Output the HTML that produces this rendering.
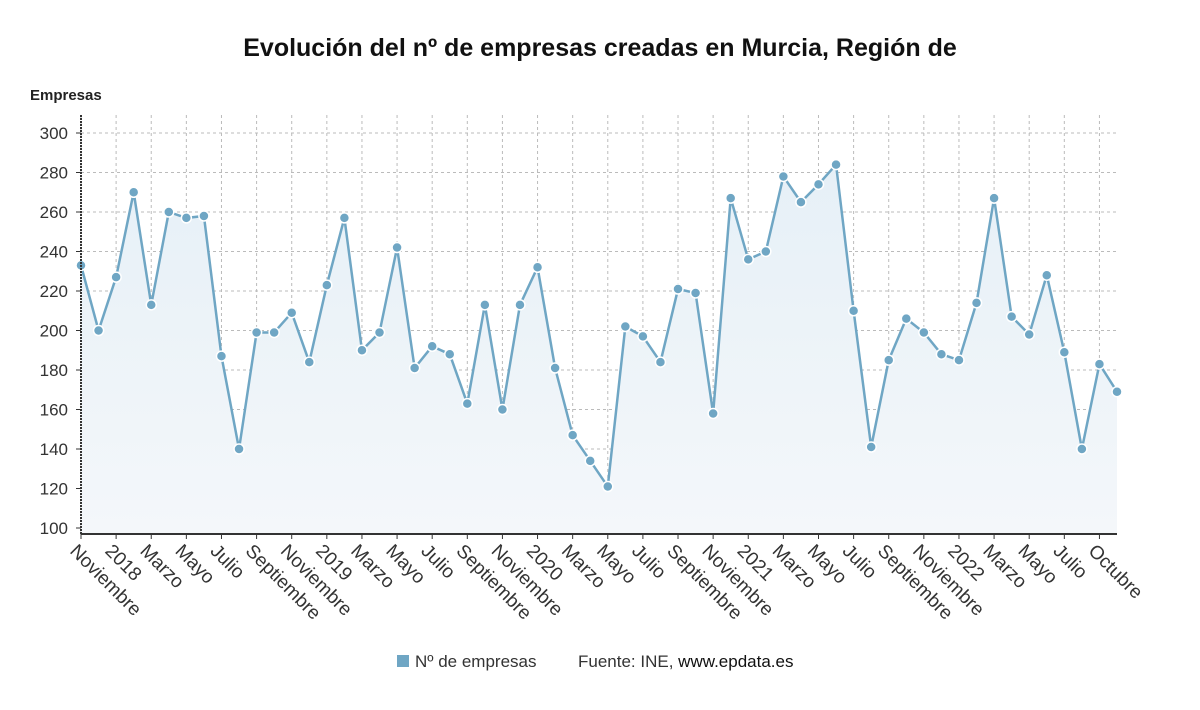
<!DOCTYPE html>
<html><head><meta charset="utf-8">
<style>
body{margin:0;background:#fff;width:1200px;height:705px;overflow:hidden;font-family:"Liberation Sans",sans-serif;}
svg text{font-family:"Liberation Sans",sans-serif;}
</style></head>
<body>
<svg id="chart" width="1200" height="705" xmlns="http://www.w3.org/2000/svg">
<defs><linearGradient id="ag" x1="0" y1="0" x2="0" y2="1"><stop offset="0" stop-color="#e6f0f7"/><stop offset="1" stop-color="#f4f7fa"/></linearGradient></defs>
<text x="600" y="56" text-anchor="middle" font-size="25" font-weight="bold" fill="#111">Evolución del nº de empresas creadas en Murcia, Región de</text>
<text x="30" y="100" font-size="15" font-weight="bold" fill="#222">Empresas</text>
<g id="grid"></g><g id="series"></g><g id="axes"></g>
<g>
<rect x="397" y="655" width="12" height="12" fill="#6fa6c4"/>
<text x="415" y="667" font-size="17" fill="#333">Nº de empresas</text>
<text x="578" y="667" font-size="17" fill="#333">Fuente: INE, <tspan fill="#111">www.epdata.es</tspan></text>
</g>
</svg>
<script>
const labels=["Noviembre","2018","Marzo","Mayo","Julio","Septiembre","Noviembre","2019","Marzo","Mayo","Julio","Septiembre","Noviembre","2020","Marzo","Mayo","Julio","Septiembre","Noviembre","2021","Marzo","Mayo","Julio","Septiembre","Noviembre","2022","Marzo","Mayo","Julio","Octubre"];
const values=[233,200,227,270,213,260,257,258,187,140,199,199,209,184,223,257,190,199,242,181,192,188,163,213,160,213,232,181,147,134,121,202,197,184,221,219,158,267,236,240,278,265,274,284,210,141,185,206,199,188,185,214,267,207,198,228,189,140,183,169];
const yTicks=[100,120,140,160,180,200,220,240,260,280,300];
const NS="http://www.w3.org/2000/svg";
const x0=81,x1=1117,yB=534;
const X=i=>x0+i*(x1-x0)/(values.length-1);
const Y=v=>528-(v-100)*(528-133)/200;
function mk(t,a,p){const e=document.createElementNS(NS,t);for(const k in a)e.setAttribute(k,a[k]);p.appendChild(e);return e;}
const grid=document.getElementById('grid'),ser=document.getElementById('series'),ax=document.getElementById('axes');
yTicks.forEach(v=>{
const l=mk('line',{x1:x0,x2:x1,y1:Y(v),y2:Y(v),stroke:'#bbb','stroke-dasharray':'3,3'},grid);


const t=mk('text',{x:68,y:Y(v)+6,'text-anchor':'end','font-size':17,fill:'#333'},ax);
t.textContent=v;


mk('line',{x1:x0-5,x2:x0,y1:Y(v),y2:Y(v),stroke:'#333'},ax);
});
labels.forEach((s,j)=>{
const i=Math.min(j*2,values.length-1);const x=X(i);
const l=mk('line',{x1:x,x2:x,y1:115,y2:yB,stroke:'#bbb','stroke-dasharray':'3,3'},grid);


mk('line',{x1:x,x2:x,y1:yB,y2:yB+5,stroke:'#333'},ax);
const t=mk('text',{x:x-3,y:yB+9,'font-size':19,fill:'#333',transform:`rotate(45 ${x-3} ${yB+9})`,'dominant-baseline':'hanging'},ax);
t.textContent=s;


});
let d='';values.forEach((v,i)=>{d+=(i?'L':'M')+X(i)+','+Y(v);});
const area=mk('path',{d:d+`L${X(values.length-1)},${yB}L${x0},${yB}Z`,fill:'url(#ag)'},ser);


const line=mk('path',{d:d,fill:'none',stroke:'#6fa6c4','stroke-width':2.5},ser);


values.forEach((v,i)=>{
const c=mk('circle',{cx:X(i),cy:Y(v),r:5,fill:'#6fa6c4',stroke:'#fff','stroke-width':1.5},ser);


});
const la=mk('line',{x1:x0,x2:x0,y1:115,y2:yB,stroke:'#333','stroke-width':2,'stroke-dasharray':'2,1'},ax);


const ba=mk('line',{x1:x0,x2:x1,y1:yB,y2:yB,stroke:'#333','stroke-width':2},ax);


</script>
</body></html>
